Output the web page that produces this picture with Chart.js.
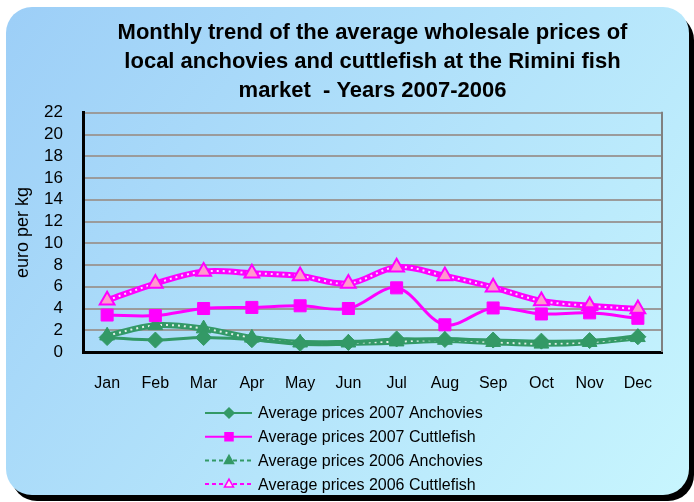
<!DOCTYPE html>
<html>
<head>
<meta charset="utf-8">
<script src="https://cdn.jsdelivr.net/npm/chart.js@4.4.1/dist/chart.umd.min.js"></script>
<style>
  html, body { margin: 0; padding: 0; background: #fff; }
  canvas { display: block; }
</style>
</head>
<body>
<canvas id="chart" width="694" height="502"></canvas>
<script>
const months = ['Jan', 'Feb', 'Mar', 'Apr', 'May', 'Jun', 'Jul', 'Aug', 'Sep', 'Oct', 'Nov', 'Dec'];
const anchovies2007 = [1.33, 1.1, 1.33, 1.13, 0.8, 0.88, 1.2, 1.15, 1.1, 1.0, 1.05, 1.4];
const cuttlefish2007 = [3.4, 3.35, 4.0, 4.1, 4.25, 4.0, 5.9, 2.5, 4.05, 3.5, 3.6, 3.1];
const anchovies2006 = [1.5, 2.45, 2.15, 1.3, 0.85, 0.85, 0.95, 1.1, 0.9, 0.75, 0.9, 1.35];
const cuttlefish2006 = [4.75, 6.3, 7.4, 7.25, 7.0, 6.3, 7.8, 7.0, 5.95, 4.7, 4.25, 3.95];

const titleLines = [
  'Monthly trend of the average wholesale prices of',
  'local anchovies and cuttlefish at the Rimini fish',
  'market  - Years 2007-2006',
];

const GREEN = '#339966';
const MAGENTA = '#ff00ff';
const PINK = '#ff99cc';
const FONT = "'Liberation Sans', Arial, sans-serif";

Chart.defaults.font.family = FONT;
Chart.defaults.color = '#000';

// rounded light-blue panel with a black drop shadow
const panelBackground = {
  id: 'panelBackground',
  beforeDraw(chart) {
    const { ctx } = chart;
    ctx.save();
    ctx.fillStyle = '#000';
    ctx.beginPath();
    ctx.roundRect(11, 14, 683, 487, 26);
    ctx.fill();
    const grad = ctx.createLinearGradient(0, 0, 694, 502);
    grad.addColorStop(0, '#9ccef7');
    grad.addColorStop(1, '#c8f6fe');
    ctx.fillStyle = grad;
    ctx.beginPath();
    ctx.roundRect(6, 7, 683, 488, 26);
    ctx.fill();
    ctx.restore();
  },
};

// grey right edge of the plot area (top edge is the 22 gridline)
const plotFrame = {
  id: 'plotFrame',
  beforeDatasetsDraw(chart) {
    const { ctx, chartArea } = chart;
    ctx.save();
    ctx.strokeStyle = '#808080';
    ctx.lineWidth = 2;
    ctx.beginPath();
    ctx.moveTo(chartArea.right, chartArea.top - 1);
    ctx.lineTo(chartArea.right, chartArea.bottom);
    ctx.stroke();
    ctx.restore();
  },
};

function marker(ctx, style, x, y, r) {
  ctx.beginPath();
  if (style === 'rectRot') {
    ctx.moveTo(x, y - r); ctx.lineTo(x + r, y); ctx.lineTo(x, y + r); ctx.lineTo(x - r, y);
  } else if (style === 'rect') {
    ctx.rect(x - r, y - r, 2 * r, 2 * r);
  } else {
    ctx.moveTo(x, y - r); ctx.lineTo(x + r * 0.9, y + r * 0.6); ctx.lineTo(x - r * 0.9, y + r * 0.6);
  }
  ctx.closePath();
  ctx.fill();
  ctx.stroke();
}

// one-per-row legend below the axis, like the original
const stackedLegend = {
  id: 'stackedLegend',
  afterDraw(chart) {
    const { ctx } = chart;
    const items = chart.data.datasets.filter((ds) => ds.inLegend);
    ctx.save();
    ctx.font = `16px ${FONT}`;
    ctx.textBaseline = 'middle';
    ctx.textAlign = 'left';
    items.forEach((ds, i) => {
      const y = 413 + i * 23.7;
      ctx.strokeStyle = ds.legendColor;
      ctx.lineWidth = 2;
      ctx.setLineDash(ds.legendDash || []);
      ctx.beginPath();
      ctx.moveTo(205, y);
      ctx.lineTo(252, y);
      ctx.stroke();
      ctx.setLineDash([]);
      ctx.fillStyle = ds.legendFill;
      ctx.lineWidth = 1.5;
      marker(ctx, ds.pointStyle, 229, y, ds.pointStyle === 'rect' ? 4 : 5);
      ctx.fillStyle = '#000';
      ctx.fillText(ds.label, 258, y + 1);
    });
    ctx.restore();
  },
};

const smooth = 0.35;

new Chart(document.getElementById('chart'), {
  type: 'line',
  data: {
    labels: months,
    datasets: [
      {
        label: 'Average prices 2007 Anchovies',
        data: anchovies2007,
        borderColor: GREEN,
        borderWidth: 3,
        tension: smooth,
        pointStyle: 'rectRot',
        pointRadius: 8,
        pointBackgroundColor: GREEN,
        pointBorderColor: GREEN,
        pointBorderWidth: 1,
        order: 1,
        inLegend: true,
        legendColor: GREEN,
        legendFill: GREEN,
      },
      {
        label: 'Average prices 2007 Cuttlefish',
        data: cuttlefish2007,
        borderColor: MAGENTA,
        borderWidth: 3,
        tension: smooth,
        pointStyle: 'rect',
        pointRadius: 8.5,
        pointBackgroundColor: MAGENTA,
        pointBorderColor: MAGENTA,
        pointBorderWidth: 1,
        order: 1,
        inLegend: true,
        legendColor: MAGENTA,
        legendFill: MAGENTA,
      },
      {
        label: 'Average prices 2006 Anchovies',
        data: anchovies2006,
        showLine: false,
        pointStyle: 'triangle',
        pointRadius: 8.5,
        pointBackgroundColor: GREEN,
        pointBorderColor: GREEN,
        pointBorderWidth: 1,
        order: 2,
        inLegend: true,
        legendColor: GREEN,
        legendFill: GREEN,
        legendDash: [4, 3],
      },
      {
        label: 'Average prices 2006 Cuttlefish',
        data: cuttlefish2006,
        showLine: false,
        pointStyle: 'triangle',
        pointRadius: 8.5,
        pointBackgroundColor: PINK,
        pointBorderColor: MAGENTA,
        pointBorderWidth: 2,
        order: 2,
        inLegend: true,
        legendColor: MAGENTA,
        legendFill: '#ffe0f4',
        legendDash: [4, 3],
      },
      // white dots running inside the thick 2006 lines
      {
        label: 'dots 2006 Anchovies',
        data: anchovies2006,
        borderColor: 'rgba(255,255,255,0.85)',
        borderWidth: 2,
        borderDash: [2, 4],
        tension: smooth,
        pointRadius: 0,
        order: 3,
      },
      {
        label: 'dots 2006 Cuttlefish',
        data: cuttlefish2006,
        borderColor: 'rgba(255,255,255,0.85)',
        borderWidth: 2,
        borderDash: [2, 4],
        tension: smooth,
        pointRadius: 0,
        order: 3,
      },
      {
        label: 'band 2006 Anchovies',
        data: anchovies2006,
        borderColor: GREEN,
        borderWidth: 6,
        tension: smooth,
        pointRadius: 0,
        order: 4,
      },
      {
        label: 'band 2006 Cuttlefish',
        data: cuttlefish2006,
        borderColor: MAGENTA,
        borderWidth: 6,
        tension: smooth,
        pointRadius: 0,
        order: 4,
      },
    ],
  },
  options: {
    responsive: false,
    animation: false,
    layout: {
      padding: { left: 8, right: 32, top: 0, bottom: 0 },
    },
    plugins: {
      legend: { display: false },
      tooltip: { enabled: false },
      title: {
        display: true,
        text: titleLines,
        fullSize: false,
        color: '#000',
        font: { size: 22, weight: 'bold', lineHeight: 1.3 },
        padding: { top: 19, bottom: 8 },
      },
    },
    scales: {
      x: {
        offset: true,
        grid: { display: false, drawTicks: false },
        border: { color: '#000', width: 3 },
        ticks: { font: { size: 16 }, color: '#000', padding: 22 },
        afterFit: (scale) => { scale.height = 150; },
      },
      y: {
        min: 0,
        max: 22,
        ticks: {
          stepSize: 2, autoSkip: false, font: { size: 17 }, color: '#000', padding: 20,
        },
        grid: { color: '#9b9b9b', lineWidth: 2, drawTicks: false },
        border: { color: '#000', width: 3 },
        title: {
          display: true,
          text: 'euro per kg',
          font: { size: 18 },
          color: '#000',
          padding: { top: 4, bottom: 0 },
        },
        afterFit: (scale) => { scale.width = 75; },
      },
    },
  },
  plugins: [panelBackground, plotFrame, stackedLegend],
});
</script>
</body>
</html>
